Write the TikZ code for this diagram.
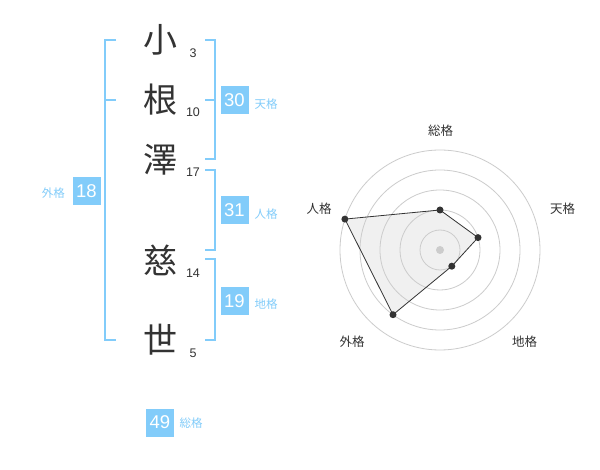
\documentclass[tikz,border=0pt]{standalone}
\usepackage{fontspec}
\setmainfont{Liberation Sans}
\newfontfamily\jp{Noto Sans CJK JP}
\definecolor{sky}{RGB}{130,204,250}
\definecolor{ink}{RGB}{51,51,51}
\definecolor{ringgray}{RGB}{204,204,204}
\definecolor{areafill}{RGB}{240,240,240}
\begin{document}
\begin{tikzpicture}[x=1pt,y=-1pt,
  kanji/.style={font=\jp\fontsize{34}{34}\selectfont, text=ink, inner sep=0},
  strokes/.style={font=\fontsize{12.5}{12.5}\selectfont, text=ink, inner sep=0},
  numbox/.style={fill=sky, text=white, minimum width=28, minimum height=28, inner sep=0, font=\fontsize{18.5}{18.5}\selectfont},
  kaku/.style={font=\jp\fontsize{11.5}{11.5}\selectfont, text=sky, inner sep=0},
  bracket/.style={draw=sky, line width=2, line join=miter},
  ring/.style={draw=ringgray, line width=0.8},
  axislabel/.style={font=\jp\fontsize{12.5}{12.5}\selectfont, text=ink, inner sep=0},
  dot/.style={circle, fill=ink, inner sep=0, minimum size=7},
  hub/.style={circle, fill=ringgray, inner sep=0, minimum size=8}
]
\fill[white] (0,0) rectangle (600,470);
\useasboundingbox (0,0) rectangle (600,470);

% name characters
\node[kanji] (k1) at (160,40) {小};
\node[kanji] (k2) at (160,100) {根};
\node[kanji] (k3) at (160,160) {澤};
\node[kanji] (k4) at (160,260) {慈};
\node[kanji] (k5) at (160,340) {世};

\node[strokes] (s1) at (193,53) {3};
\node[strokes] (s2) at (193,112.7) {10};
\node[strokes] (s3) at (193,172.7) {17};
\node[strokes] (s4) at (193,273.3) {14};
\node[strokes] (s5) at (193,353.3) {5};

% brackets
\draw[bracket] (116,40) -- (105,40) -- (105,340) -- (116,340);
\draw[bracket] (105,100) -- (116,100);
\draw[bracket] (205,40) -- (215,40) -- (215,159.5) -- (205,159.5);
\draw[bracket] (205,100) -- (215,100);
\draw[bracket] (205,170.5) -- (215,170.5) -- (215,250) -- (205,250);
\draw[bracket] (205,259.5) -- (215,259.5) -- (215,340) -- (205,340);

% boxes and labels
\node[numbox] (gaikaku) at (86.5,191) {18};
\node[kaku] (gaikakuL) at (53.3,193.3) {外格};
\node[numbox] (tenkaku) at (234.5,100.5) {30};
\node[kaku] (tenkakuL) at (266,104) {天格};
\node[numbox] (jinkaku) at (234.5,210) {31};
\node[kaku] (jinkakuL) at (266,214) {人格};
\node[numbox] (chikaku) at (234.5,301) {19};
\node[kaku] (chikakuL) at (266,304) {地格};
\node[numbox] (soukaku) at (160,422.5) {49};
\node[kaku] (soukakuL) at (191,423) {総格};

% radar chart
\coordinate (O) at (440,250);
\coordinate (pS) at (440,210);
\coordinate (pT) at (478.0,237.6);
\coordinate (pC) at (451.8,266.2);
\coordinate (pG) at (393.0,314.7);
\coordinate (pJ) at (344.9,219.1);
\fill[areafill] (pS) -- (pT) -- (pC) -- (pG) -- (pJ) -- cycle;
\foreach \r in {20,40,60,80,100} \draw[ring] (O) circle[radius=\r];
\node[hub] (center) at (O) {};
\draw[ink, line width=0.8, line join=round] (pS) -- (pT) -- (pC) -- (pG) -- (pJ) -- cycle;
\foreach \p in {pS,pT,pC,pG,pJ} \node[dot] at (\p) {};

\node[axislabel] (aS) at (440.5,130.5) {総格};
\node[axislabel] (aT) at (562.5,209) {天格};
\node[axislabel] (aJ) at (319,209) {人格};
\node[axislabel] (aG) at (352,342) {外格};
\node[axislabel] (aC) at (524.5,342) {地格};
\end{tikzpicture}
\end{document}
